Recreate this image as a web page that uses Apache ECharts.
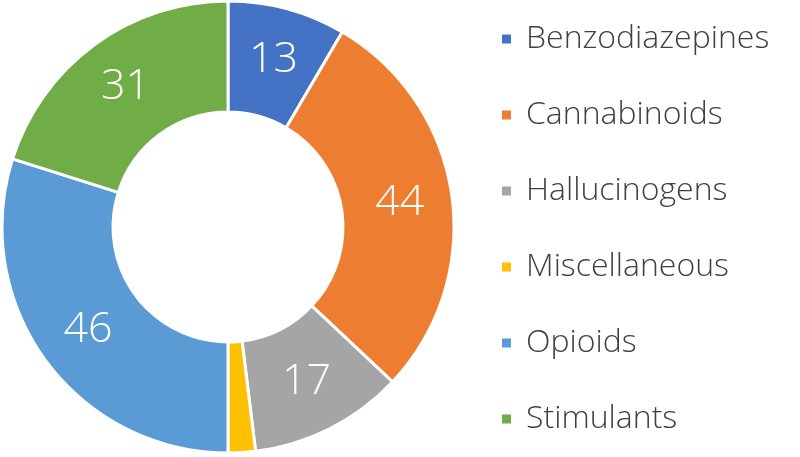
<!DOCTYPE html>
<html>
<head>
<meta charset="utf-8">
<script src="https://cdn.jsdelivr.net/npm/echarts@6/dist/echarts.min.js"></script>
<style>
html,body{margin:0;padding:0;background:#fff;}
#chart{width:800px;height:457px;}
</style>
</head>
<body>
<div id="chart"></div>
<script>
var categories = ['Benzodiazepines', 'Cannabinoids', 'Hallucinogens', 'Miscellaneous', 'Opioids', 'Stimulants'];
var values = [13, 44, 17, 3, 46, 31];
var colors = ['#4472C4', '#ED7D31', '#A5A5A5', '#FFC000', '#5B9BD5', '#70AD47'];
var hiddenLabels = ['Miscellaneous'];

var FONT = '"Open Sans", Lato, sans-serif';
var chart = echarts.init(document.getElementById('chart'), null, {renderer: 'canvas'});
var data = categories.map(function (c, i) {
  var d = {name: c, value: values[i], itemStyle: {color: colors[i]}};
  if (hiddenLabels.indexOf(c) >= 0) d.label = {show: false};
  return d;
});
chart.setOption({
  animation: false,
  backgroundColor: '#ffffff',
  legend: {
    orient: 'vertical',
    left: 500,
    top: 21,
    padding: 0,
    icon: 'rect',
    itemWidth: 11,
    itemHeight: 11,
    itemGap: 40,
    data: categories,
    textStyle: {
      fontFamily: FONT,
      fontWeight: 300,
      fontSize: 32,
      lineHeight: 36,
      color: '#404040',
      padding: [0, 0, 0, 9]
    }
  },
  series: [{
    type: 'pie',
    center: [228, 227],
    radius: [115, 226],
    startAngle: 90,
    clockwise: true,
    avoidLabelOverlap: false,
    itemStyle: {borderColor: '#ffffff', borderWidth: 3},
    label: {
      show: true,
      position: 'inside',
      formatter: '{c}',
      color: '#ffffff',
      fontFamily: FONT,
      fontWeight: 300,
      fontSize: 43
    },
    labelLine: {show: false},
    emphasis: {disabled: true},
    data: data
  }]
});
</script>
</body>
</html>
